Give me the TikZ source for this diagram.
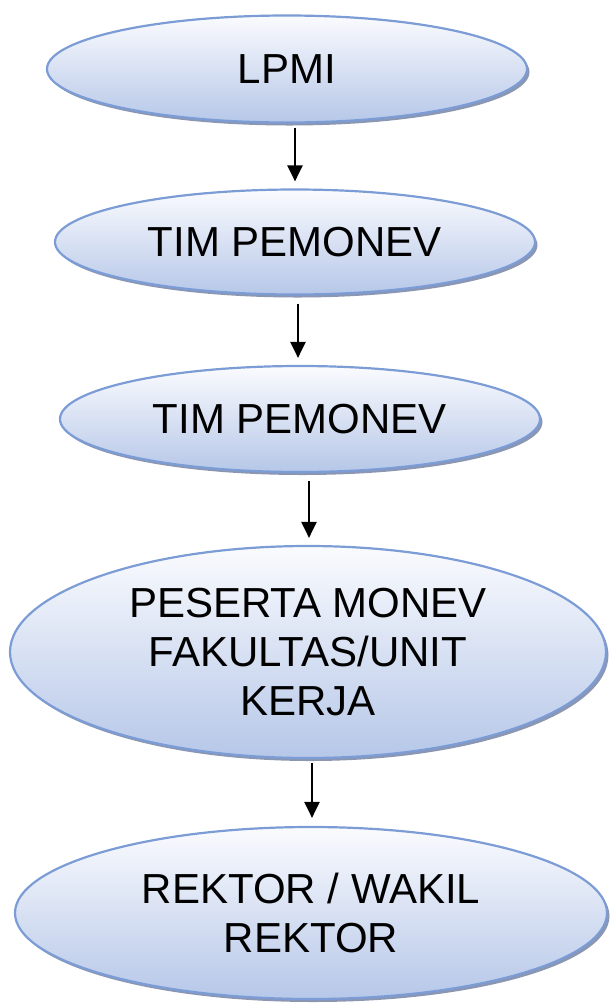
\documentclass[tikz,border=0pt]{standalone}
\usepackage{fontspec}
\setmainfont{Liberation Sans}
\usetikzlibrary{shapes.geometric,shadows,arrows.meta}
\definecolor{eborder}{RGB}{124,156,214}
\definecolor{etop}{RGB}{250,251,254}
\definecolor{ebot}{RGB}{182,199,232}
\definecolor{eshadow}{RGB}{138,150,178}
\tikzset{
  oval/.style={ellipse, draw=eborder, line width=2.2pt, top color=etop, bottom color=ebot,
    inner sep=0pt, align=center, font=\fontsize{42}{49}\selectfont,
    drop shadow={shadow xshift=2.5pt, shadow yshift=-3pt, fill=eshadow, opacity=1}},
  arr/.style={line width=2.3pt, -{Triangle[length=16pt,width=15pt]}}
}
\begin{document}
\begin{tikzpicture}[x=1pt,y=-1pt]
\useasboundingbox (0,0) rectangle (611,1005);
\node[oval, minimum width=480pt, minimum height=107pt] (e1) at (287,69) {LPMI};
\node[oval, minimum width=480pt, minimum height=105pt] (e2) at (295,242) {TIM PEMONEV};
\node[oval, minimum width=480pt, minimum height=106pt] (e3) at (300,419) {TIM PEMONEV};
\node[oval, minimum width=596pt, minimum height=212pt] (e4) at (308,652) {PESERTA MONEV\\FAKULTAS/UNIT\\KERJA};
\node[oval, minimum width=592pt, minimum height=172pt] (e5) at (311,913) {REKTOR / WAKIL\\REKTOR};
\draw[arr] ([xshift=8pt,yshift=-4pt]e1.south) -- ([yshift=7pt]e2.north);
\draw[arr] ([xshift=3pt,yshift=-8pt]e2.south) -- ([xshift=-2pt,yshift=7pt]e3.north);
\draw[arr] ([xshift=9pt,yshift=-8pt]e3.south) -- ([xshift=1pt,yshift=7pt]e4.north);
\draw[arr] ([xshift=4pt,yshift=-4pt]e4.south) -- ([xshift=1pt,yshift=8pt]e5.north);
\end{tikzpicture}
\end{document}
